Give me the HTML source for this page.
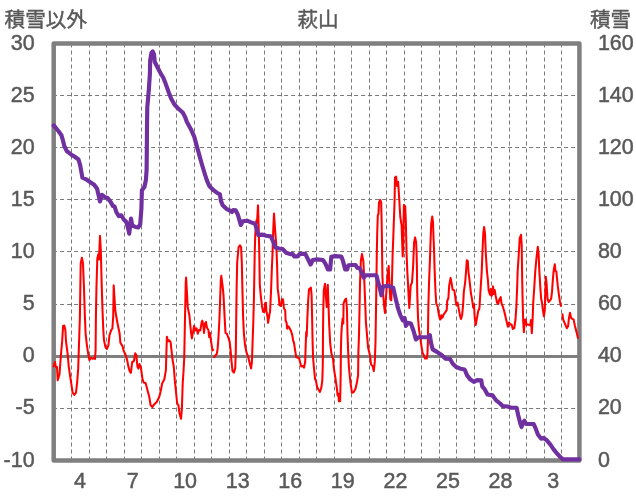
<!DOCTYPE html>
<html lang="ja"><head><meta charset="utf-8"><title>萩山</title>
<style>
html,body{margin:0;padding:0;background:#fff;}
body{width:636px;height:501px;overflow:hidden;}
svg{display:block;}
text{font-family:"Liberation Sans", "Noto Sans CJK JP", sans-serif;fill:#595959;}
</style></head><body>
<svg width="636" height="501" viewBox="0 0 636 501">
<rect x="0" y="0" width="636" height="501" fill="#fff"/>

<g stroke="#797979" stroke-width="1" stroke-dasharray="4 3" fill="none">
<line x1="71.50" y1="43.5" x2="71.50" y2="460.40"/>
<line x1="89.50" y1="43.5" x2="89.50" y2="460.40"/>
<line x1="106.50" y1="43.5" x2="106.50" y2="460.40"/>
<line x1="124.50" y1="43.5" x2="124.50" y2="460.40"/>
<line x1="141.50" y1="43.5" x2="141.50" y2="460.40"/>
<line x1="159.50" y1="43.5" x2="159.50" y2="460.40"/>
<line x1="176.50" y1="43.5" x2="176.50" y2="460.40"/>
<line x1="194.50" y1="43.5" x2="194.50" y2="460.40"/>
<line x1="211.50" y1="43.5" x2="211.50" y2="460.40"/>
<line x1="229.50" y1="43.5" x2="229.50" y2="460.40"/>
<line x1="246.50" y1="43.5" x2="246.50" y2="460.40"/>
<line x1="264.50" y1="43.5" x2="264.50" y2="460.40"/>
<line x1="281.50" y1="43.5" x2="281.50" y2="460.40"/>
<line x1="299.50" y1="43.5" x2="299.50" y2="460.40"/>
<line x1="316.50" y1="43.5" x2="316.50" y2="460.40"/>
<line x1="334.50" y1="43.5" x2="334.50" y2="460.40"/>
<line x1="351.50" y1="43.5" x2="351.50" y2="460.40"/>
<line x1="369.50" y1="43.5" x2="369.50" y2="460.40"/>
<line x1="386.50" y1="43.5" x2="386.50" y2="460.40"/>
<line x1="404.50" y1="43.5" x2="404.50" y2="460.40"/>
<line x1="421.50" y1="43.5" x2="421.50" y2="460.40"/>
<line x1="439.50" y1="43.5" x2="439.50" y2="460.40"/>
<line x1="456.50" y1="43.5" x2="456.50" y2="460.40"/>
<line x1="474.50" y1="43.5" x2="474.50" y2="460.40"/>
<line x1="491.50" y1="43.5" x2="491.50" y2="460.40"/>
<line x1="509.50" y1="43.5" x2="509.50" y2="460.40"/>
<line x1="526.50" y1="43.5" x2="526.50" y2="460.40"/>
<line x1="544.50" y1="43.5" x2="544.50" y2="460.40"/>
<line x1="561.50" y1="43.5" x2="561.50" y2="460.40"/>
<line x1="53.1" y1="95.50" x2="579.40" y2="95.50"/>
<line x1="53.1" y1="147.50" x2="579.40" y2="147.50"/>
<line x1="53.1" y1="199.50" x2="579.40" y2="199.50"/>
<line x1="53.1" y1="251.50" x2="579.40" y2="251.50"/>
<line x1="53.1" y1="304.50" x2="579.40" y2="304.50"/>
<line x1="53.1" y1="408.50" x2="579.40" y2="408.50"/>
</g>
<line x1="53.70" y1="356.40" x2="579.40" y2="356.40" stroke="#7f7f7f" stroke-width="3"/>
<rect x="53.70" y="43.40" width="525.70" height="417.00" fill="none" stroke="#7f7f7f" stroke-width="4.5" stroke-linejoin="round"/>
<path d="M53.7,366.3 L55.0,362.1 L55.9,367.1 L57.0,367.1 L57.7,380.3 L59.5,374.5 L60.9,355.3 L62.1,341.9 L63.1,326.0 L64.3,325.5 L65.4,330.2 L65.9,340.3 L67.6,353.7 L68.8,367.1 L69.8,374.0 L71.5,385.2 L72.6,392.7 L74.3,394.9 L76.0,392.7 L77.2,381.8 L78.2,368.4 L78.8,350.3 L79.9,316.8 L80.3,290.0 L80.7,263.5 L81.9,257.7 L83.0,263.5 L84.0,288.7 L84.9,316.8 L85.6,333.5 L86.9,345.3 L88.2,353.7 L89.4,360.0 L91.1,357.9 L92.8,358.7 L94.0,357.9 L95.0,359.0 L95.6,350.3 L95.9,317.0 L96.4,290.0 L97.3,258.5 L98.3,254.3 L99.0,259.4 L99.5,246.8 L100.0,235.9 L100.8,250.1 L101.7,285.0 L102.5,310.0 L103.3,330.0 L104.0,340.3 L105.4,347.0 L107.0,349.0 L108.4,345.3 L109.5,335.2 L111.2,330.2 L112.4,328.5 L113.2,316.8 L113.7,285.4 L114.6,300.0 L115.3,310.1 L116.3,316.8 L117.9,325.2 L119.6,333.5 L120.4,342.8 L122.5,346.1 L123.8,351.2 L125.5,354.5 L127.2,360.4 L128.5,367.1 L129.7,371.3 L130.9,372.8 L132.2,362.0 L133.9,361.2 L135.2,353.3 L136.4,355.3 L137.4,366.5 L138.4,368.6 L139.5,364.0 L140.9,367.7 L142.4,378.5 L143.6,382.5 L145.6,383.1 L147.3,389.4 L149.3,396.9 L150.6,405.3 L152.4,407.0 L154.1,404.4 L156.7,402.0 L159.2,397.0 L160.9,390.3 L162.1,383.5 L164.3,379.4 L165.9,370.1 L166.4,352.0 L166.9,336.7 L168.1,341.3 L169.3,340.4 L170.6,342.1 L171.5,350.3 L172.5,359.5 L173.8,366.8 L174.8,380.2 L176.0,391.9 L177.2,403.7 L178.5,405.4 L179.4,412.9 L181.0,418.8 L181.9,408.7 L182.7,383.5 L183.5,371.8 L184.2,358.5 L184.7,333.7 L185.2,308.5 L185.7,283.4 L186.1,277.5 L186.9,291.8 L187.7,306.9 L189.4,315.3 L190.3,325.3 L191.1,332.9 L191.9,338.4 L193.3,330.4 L194.1,325.7 L195.3,330.4 L196.6,328.3 L197.8,333.7 L199.0,330.0 L200.3,330.4 L201.7,322.0 L202.3,320.6 L203.3,325.3 L204.0,332.9 L205.0,323.6 L205.9,322.0 L207.0,327.8 L208.4,330.0 L209.2,337.1 L210.0,332.9 L210.9,340.4 L211.7,345.4 L212.4,350.5 L213.2,349.8 M214.2,357.2 L215.4,355.5 L216.8,353.8 L217.6,348.8 L218.4,338.7 L219.3,322.0 L220.1,300.2 L220.8,280.0 L221.3,275.8 L222.5,285.1 L223.5,295.1 L224.6,316.9 L225.5,332.9 L226.8,333.7 L228.5,337.9 L229.7,342.1 L230.6,350.4 L231.4,360.1 L232.5,371.0 L233.9,372.6 L235.2,368.4 L235.8,352.0 L236.2,320.0 L236.6,290.0 L237.2,262.1 L238.6,247.0 L239.9,245.3 L241.1,247.0 L241.8,262.1 L242.3,285.0 L243.1,316.9 L243.9,333.7 L245.1,345.4 L246.4,352.2 L248.1,356.7 L249.8,363.4 L251.1,368.4 L251.9,362.0 L252.5,345.0 L253.3,322.0 L254.0,295.0 L254.7,253.7 L255.3,233.6 L256.5,220.2 L257.0,223.0 L258.0,205.4 L258.7,228.5 L259.3,253.7 L259.8,285.0 L260.9,296.8 L262.1,306.9 L263.1,311.9 L264.3,311.9 L265.1,303.5 L265.9,302.7 L266.4,311.1 L267.3,315.3 L268.1,322.8 L269.3,315.3 L270.1,311.1 L271.0,291.8 L271.8,270.0 L272.5,253.7 L273.3,228.5 L274.0,213.5 L275.0,228.5 L276.3,245.3 L277.1,265.0 L277.7,288.4 L278.8,296.8 L279.4,305.2 L281.0,306.0 L281.9,299.3 L283.0,299.3 L284.0,308.5 L285.2,310.2 L285.6,320.3 L286.6,322.8 L287.2,328.7 L288.2,326.2 L289.4,327.8 L291.1,331.2 L292.3,335.4 L293.3,341.3 L293.9,342.1 L295.0,349.6 L296.3,357.3 L299.0,358.1 L300.0,361.8 L301.2,366.5 L302.8,366.0 L304.0,367.7 L305.2,361.8 L305.7,345.0 L306.2,332.0 L306.7,336.2 L307.4,316.9 L308.2,300.2 L309.0,289.3 L310.0,288.4 L310.9,287.6 L311.6,295.1 L312.1,316.9 L312.6,342.1 L313.1,358.0 L313.7,365.2 L315.1,379.4 L315.9,380.3 L317.1,387.0 L318.4,389.5 L319.9,392.0 L321.3,387.8 L322.3,380.3 L322.8,365.0 L323.0,333.7 L323.3,308.5 L323.8,290.1 L325.0,283.7 L325.8,295.1 L326.7,306.9 L327.2,295.1 L327.8,284.7 L328.3,300.2 L329.2,325.3 L330.2,343.0 L331.2,352.0 L332.2,356.8 L333.0,358.5 L333.9,368.5 L335.5,378.6 L336.9,388.6 L337.6,395.4 L338.4,393.7 L338.9,401.2 L340.1,401.2 L340.4,390.3 L340.7,373.5 L340.9,350.0 L341.3,335.0 L341.9,325.3 L342.6,318.6 L343.3,323.6 L343.6,303.5 L344.8,300.2 L346.1,298.5 L346.9,308.5 L347.5,333.7 L348.2,352.0 L348.8,365.0 L349.5,373.5 L350.6,383.6 L352.0,392.8 L353.7,392.0 L355.5,388.7 L357.0,382.0 L358.1,375.3 L358.4,351.8 L359.0,335.0 L359.5,310.0 L360.0,283.5 L360.9,260.1 L362.0,254.0 L363.4,261.7 L364.2,278.5 L365.1,300.3 L365.9,322.0 L367.3,338.4 L368.1,347.6 L370.1,356.0 L371.0,364.4 L372.6,366.1 L373.8,371.1 L374.8,361.9 L375.5,341.8 L376.0,310.0 L376.5,275.2 L376.8,253.9 L377.2,233.7 L377.8,215.3 L378.5,213.6 L379.0,202.7 L380.2,199.9 L381.2,202.7 L381.6,220.0 L381.9,237.0 L382.1,254.0 L382.4,275.0 L383.2,295.0 L384.2,307.0 L385.0,312.9 L385.8,300.3 L386.9,283.5 L387.9,271.8 L388.7,265.9 L389.4,283.5 L390.3,299.5 L391.3,300.3 L391.9,283.5 L392.6,255.0 L393.3,237.1 L393.9,220.3 L394.6,200.2 L395.0,177.5 L396.1,176.7 L397.0,185.9 L398.1,181.7 L399.0,195.2 L400.3,217.0 L401.6,225.3 L402.1,240.4 L402.7,256.5 L403.4,240.0 L403.6,220.0 L403.9,205.0 L405.2,206.5 L405.8,220.3 L406.2,237.1 L406.6,253.9 L407.3,271.8 L408.0,283.5 L408.8,300.3 L409.3,307.9 L410.0,297.0 L410.7,285.2 L412.0,282.7 L413.1,266.8 L413.6,253.9 L414.1,242.1 L415.1,237.4 L416.1,242.1 L416.6,253.9 L416.9,266.8 L417.2,291.9 L418.0,317.1 L418.8,328.0 L419.6,333.4 L421.3,345.1 L422.5,352.7 L423.8,355.2 L425.1,358.5 L426.8,358.5 L427.5,353.5 L427.9,341.8 L428.1,325.0 L428.3,308.7 L429.0,283.5 L430.0,258.4 L430.4,245.0 L430.7,237.1 L431.2,223.7 L432.2,216.6 L433.0,222.0 L433.5,237.1 L434.2,253.9 L434.5,266.8 L435.5,291.9 L436.3,303.7 L437.6,306.2 L438.5,312.9 L439.8,318.8 L440.6,319.4 L441.3,315.2 L442.5,317.7 L443.7,314.4 L445.0,312.7 L446.7,310.2 L447.2,301.0 L448.4,298.0 L449.2,285.5 L450.6,277.9 L451.7,283.7 L452.6,289.6 L454.3,290.4 L455.1,295.5 L455.6,300.1 L456.4,305.2 L457.6,302.6 L458.8,309.4 L460.1,316.1 L461.0,318.9 L462.1,315.2 L463.1,305.2 L463.8,292.1 L465.2,282.1 L466.0,272.0 L466.8,260.3 L467.8,261.1 L468.5,272.0 L469.9,283.7 L471.0,293.8 L471.9,298.4 L473.2,307.7 L474.0,304.3 L474.7,317.7 L475.7,325.0 L476.9,318.6 L478.2,311.0 L479.4,308.5 L480.4,292.0 L481.7,272.0 L482.4,253.5 L483.3,233.4 L484.1,227.0 L485.0,233.4 L485.8,253.5 L487.0,272.0 L487.9,280.0 L488.6,290.1 L490.0,294.8 L490.8,289.0 L491.5,295.9 L492.3,294.5 L493.0,286.4 L493.7,294.0 L494.7,290.0 L495.7,296.0 L497.0,302.5 L498.2,304.0 L499.3,299.5 L500.7,297.2 L501.5,303.3 L502.9,306.8 L504.6,312.7 L506.3,320.3 L507.9,326.8 L509.1,322.5 L510.3,324.5 L511.6,324.5 L512.8,328.9 L514.3,328.0 L515.5,319.5 L516.4,306.0 L517.2,286.0 L517.7,270.3 L518.8,253.5 L519.7,238.4 L521.0,234.8 L521.7,245.2 L522.1,275.0 L522.6,300.0 L523.2,321.9 L523.9,332.3 L524.8,319.8 L525.7,319.5 L526.5,324.8 L528.5,324.6 L530.2,325.3 L531.0,320.0 L531.8,333.2 L532.6,320.0 L533.2,303.0 L534.3,287.0 L535.2,272.0 L536.4,258.6 L537.8,246.8 L538.6,253.5 L539.3,270.3 L540.3,287.1 L541.2,299.0 L541.9,302.0 L542.7,308.6 L543.9,316.3 L544.8,310.0 L545.3,291.9 L545.8,276.8 L546.6,283.5 L547.5,298.6 L548.6,302.0 L550.0,300.3 L551.2,298.6 L552.0,291.9 L552.8,280.2 L553.7,270.1 L554.8,264.3 L555.5,271.0 L556.4,271.8 L557.0,278.5 L557.9,286.9 L559.0,295.3 L560.0,302.0 L561.0,306.0 M562.5,314.3 L563.1,319.4 L565.2,324.4 L566.8,328.2 L568.1,326.1 L568.9,318.5 L570.0,312.7 L571.0,317.7 L572.3,318.9 L573.6,319.4 L574.8,325.2 L576.5,332.0 L578.0,338.0" fill="none" stroke="#ff0000" stroke-width="2.05" stroke-linejoin="round" stroke-linecap="round"/>
<path d="M53.7,125.5 L55.5,127.5 L58.4,131.0 L61.4,135.2 L63.1,141.0 L64.3,146.0 L66.8,151.1 L71.0,154.4 L75.2,157.0 L78.5,159.5 L80.2,165.4 L81.3,171.5 L82.4,177.7 L86.1,179.3 L90.0,182.0 L93.8,184.4 L97.0,188.5 L98.6,195.2 L100.0,201.5 L102.0,194.8 L104.5,196.8 L107.9,198.2 L110.7,201.9 L112.9,206.0 L114.6,206.5 L116.3,212.0 L118.8,216.1 L121.3,215.3 L123.8,219.5 L126.3,222.0 L128.0,227.9 L129.2,233.7 L131.0,218.6 L132.2,225.3 L135.5,227.0 L138.1,227.5 L140.2,224.5 L141.4,208.6 L141.9,190.3 L144.4,187.0 L145.9,180.0 L146.6,170.0 L146.8,152.0 L147.0,126.8 L147.3,107.1 L148.8,90.3 L149.9,73.5 L150.2,60.1 L151.5,52.6 L152.7,51.4 L154.0,54.3 L154.7,61.8 L157.2,66.8 L160.3,72.7 L163.3,77.7 L165.6,83.6 L168.6,92.0 L171.2,98.7 L174.5,104.6 L178.2,108.5 L182.7,112.5 L185.1,117.0 L186.8,121.8 L191.0,129.4 L194.3,136.9 L196.8,146.1 L199.4,155.4 L201.8,164.0 L204.2,172.0 L206.8,180.1 L209.3,186.0 L213.5,190.2 L216.8,192.7 L219.9,194.4 L221.0,201.1 L222.7,205.3 L226.1,208.6 L229.4,210.3 L231.9,212.0 L233.3,210.0 L235.6,210.3 L237.8,214.5 L239.5,220.3 L240.8,225.0 L242.8,221.2 L247.0,220.7 L251.2,222.4 L255.1,223.7 L256.8,229.6 L258.4,235.1 L262.1,234.6 L266.3,235.8 L270.7,236.4 L273.0,241.0 L275.3,247.5 L279.1,248.5 L282.6,249.0 L286.0,252.7 L290.2,254.1 L292.7,254.1 L294.4,256.4 L297.7,256.4 L299.9,253.9 L305.3,253.9 L307.8,258.9 L310.6,264.5 L312.8,260.0 L317.0,259.4 L322.9,260.0 L325.4,263.6 L327.9,269.5 L330.1,269.5 L331.3,256.9 L335.4,256.1 L341.3,256.6 L343.0,261.1 L345.2,269.5 L347.2,269.5 L348.4,265.3 L352.2,265.0 L355.6,265.0 L357.3,267.8 L359.8,268.3 L361.7,272.6 L363.7,277.7 L365.6,275.2 L376.4,275.2 L378.1,281.9 L380.1,289.4 L381.4,295.3 L383.1,286.6 L388.1,285.7 L393.2,287.7 L395.7,298.6 L397.9,307.9 L400.3,315.0 L402.8,320.4 L404.6,317.9 L405.9,325.9 L407.5,322.8 L410.9,323.6 L413.4,330.5 L415.9,339.4 L418.4,337.2 L428.5,337.2 L429.9,335.2 L431.0,342.7 L432.7,349.4 L436.9,351.9 L441.9,355.3 L445.3,358.6 L450.0,359.0 L452.8,363.7 L456.2,367.0 L460.4,368.7 L464.6,369.5 L467.1,375.4 L470.4,379.6 L473.8,381.8 L477.2,380.1 L481.3,380.4 L482.2,386.3 L484.4,388.8 L487.5,394.5 L492.6,395.4 L495.9,400.1 L500.1,403.5 L502.6,406.0 L507.7,406.5 L511.0,407.7 L516.6,407.7 L518.2,415.2 L520.3,423.6 L521.6,427.0 L522.8,422.8 L524.4,420.8 L526.1,424.0 L533.7,424.0 L535.7,428.6 L537.9,434.5 L541.2,438.7 L543.7,437.9 L547.1,440.7 L550.4,444.6 L553.8,449.6 L557.2,453.8 L560.5,457.2 L563.0,459.4 L579.4,459.4" fill="none" stroke="#7030a0" stroke-width="4.15" stroke-linejoin="round" stroke-linecap="round"/>
<text transform="translate(4.6,27.2) scale(1.0,1)" font-size="20.6" text-anchor="start" stroke="#595959" stroke-width="0.45">積雪以外</text>
<text transform="translate(318.0,27.2) scale(1.0,1)" font-size="20.6" text-anchor="middle" stroke="#595959" stroke-width="0.45">萩山</text>
<text transform="translate(631.2,27.2) scale(1.0,1)" font-size="20.6" text-anchor="end" stroke="#595959" stroke-width="0.45">積雪</text>
<text transform="translate(34.6,49.5) scale(0.955,1)" font-size="22.5" text-anchor="end" stroke="#595959" stroke-width="0.5">30</text>
<text transform="translate(34.6,101.6) scale(0.955,1)" font-size="22.5" text-anchor="end" stroke="#595959" stroke-width="0.5">25</text>
<text transform="translate(34.6,153.8) scale(0.955,1)" font-size="22.5" text-anchor="end" stroke="#595959" stroke-width="0.5">20</text>
<text transform="translate(34.6,205.9) scale(0.955,1)" font-size="22.5" text-anchor="end" stroke="#595959" stroke-width="0.5">15</text>
<text transform="translate(34.6,258.0) scale(0.955,1)" font-size="22.5" text-anchor="end" stroke="#595959" stroke-width="0.5">10</text>
<text transform="translate(34.6,310.1) scale(0.955,1)" font-size="22.5" text-anchor="end" stroke="#595959" stroke-width="0.5">5</text>
<text transform="translate(34.6,362.2) scale(0.955,1)" font-size="22.5" text-anchor="end" stroke="#595959" stroke-width="0.5">0</text>
<text transform="translate(34.6,414.4) scale(0.955,1)" font-size="22.5" text-anchor="end" stroke="#595959" stroke-width="0.5">-5</text>
<text transform="translate(34.6,466.5) scale(0.955,1)" font-size="22.5" text-anchor="end" stroke="#595959" stroke-width="0.5">-10</text>
<text transform="translate(597.9,49.5) scale(0.955,1)" font-size="22.5" text-anchor="start" stroke="#595959" stroke-width="0.5">160</text>
<text transform="translate(597.9,101.6) scale(0.955,1)" font-size="22.5" text-anchor="start" stroke="#595959" stroke-width="0.5">140</text>
<text transform="translate(597.9,153.8) scale(0.955,1)" font-size="22.5" text-anchor="start" stroke="#595959" stroke-width="0.5">120</text>
<text transform="translate(597.9,205.9) scale(0.955,1)" font-size="22.5" text-anchor="start" stroke="#595959" stroke-width="0.5">100</text>
<text transform="translate(597.9,258.0) scale(0.955,1)" font-size="22.5" text-anchor="start" stroke="#595959" stroke-width="0.5">80</text>
<text transform="translate(597.9,310.1) scale(0.955,1)" font-size="22.5" text-anchor="start" stroke="#595959" stroke-width="0.5">60</text>
<text transform="translate(597.9,362.2) scale(0.955,1)" font-size="22.5" text-anchor="start" stroke="#595959" stroke-width="0.5">40</text>
<text transform="translate(597.9,414.4) scale(0.955,1)" font-size="22.5" text-anchor="start" stroke="#595959" stroke-width="0.5">20</text>
<text transform="translate(597.9,466.5) scale(0.955,1)" font-size="22.5" text-anchor="start" stroke="#595959" stroke-width="0.5">0</text>
<text transform="translate(80.0,488.3) scale(0.955,1)" font-size="22.5" text-anchor="middle" stroke="#595959" stroke-width="0.5">4</text>
<text transform="translate(132.6,488.3) scale(0.955,1)" font-size="22.5" text-anchor="middle" stroke="#595959" stroke-width="0.5">7</text>
<text transform="translate(185.1,488.3) scale(0.955,1)" font-size="22.5" text-anchor="middle" stroke="#595959" stroke-width="0.5">10</text>
<text transform="translate(237.7,488.3) scale(0.955,1)" font-size="22.5" text-anchor="middle" stroke="#595959" stroke-width="0.5">13</text>
<text transform="translate(290.3,488.3) scale(0.955,1)" font-size="22.5" text-anchor="middle" stroke="#595959" stroke-width="0.5">16</text>
<text transform="translate(342.8,488.3) scale(0.955,1)" font-size="22.5" text-anchor="middle" stroke="#595959" stroke-width="0.5">19</text>
<text transform="translate(395.4,488.3) scale(0.955,1)" font-size="22.5" text-anchor="middle" stroke="#595959" stroke-width="0.5">22</text>
<text transform="translate(448.0,488.3) scale(0.955,1)" font-size="22.5" text-anchor="middle" stroke="#595959" stroke-width="0.5">25</text>
<text transform="translate(500.5,488.3) scale(0.955,1)" font-size="22.5" text-anchor="middle" stroke="#595959" stroke-width="0.5">28</text>
<text transform="translate(553.1,488.3) scale(0.955,1)" font-size="22.5" text-anchor="middle" stroke="#595959" stroke-width="0.5">3</text>
</svg></body></html>
